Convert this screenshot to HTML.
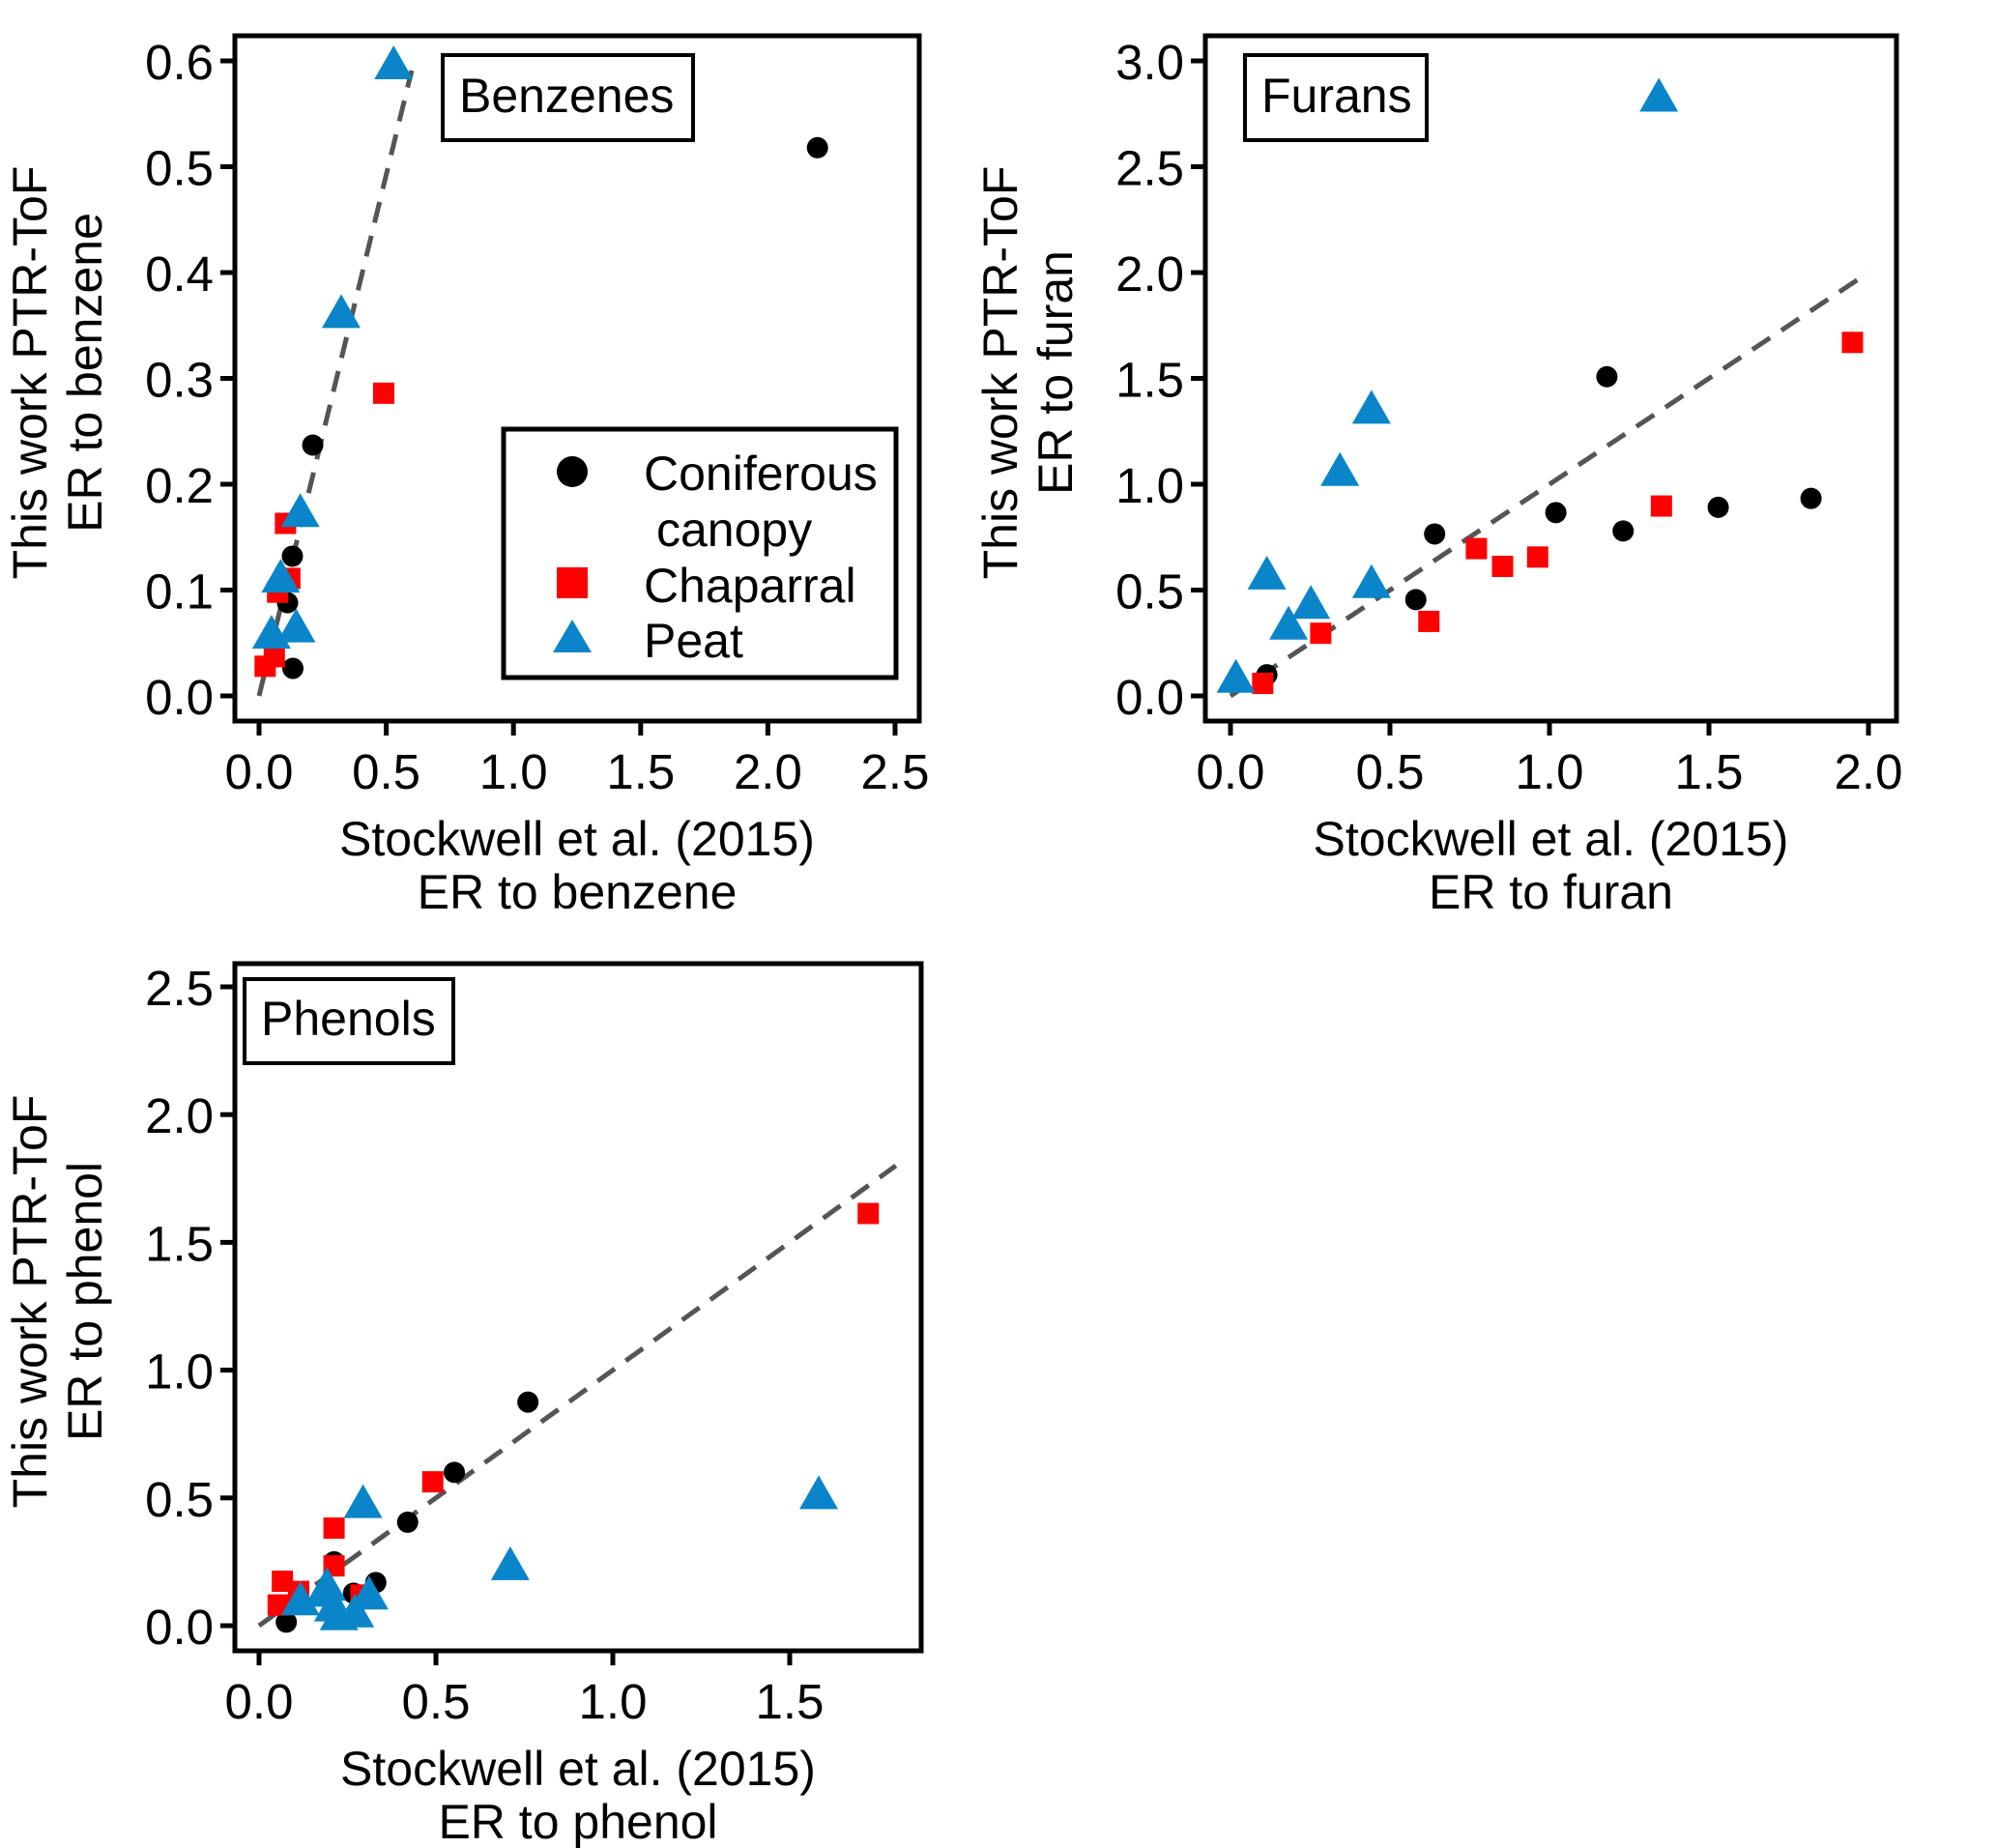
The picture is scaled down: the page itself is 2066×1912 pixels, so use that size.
<!DOCTYPE html>
<html><head><meta charset="utf-8"><style>
html,body{margin:0;padding:0;background:#fff;}
svg{display:block;font-family:"Liberation Sans",Arial,sans-serif;}
</style></head><body>
<svg id="fig" width="2066" height="1912" viewBox="0 0 2066 1912" xmlns="http://www.w3.org/2000/svg"></svg>
<script>
// ---- Benzenes data ----
const benzConifX=[2.195,0.211,0.131,0.112,0.133];
const benzConifY=[0.518,0.237,0.132,0.088,0.026];
const benzChapX=[0.49,0.104,0.121,0.073,0.024,0.06];
const benzChapY=[0.286,0.163,0.111,0.098,0.028,0.037];
const benzPeatX=[0.529,0.323,0.162,0.085,0.146,0.049];
const benzPeatY=[0.597,0.362,0.174,0.112,0.065,0.059];
const benzXTicks=[0,0.5,1,1.5,2,2.5];
const benzYTicks=[0,0.1,0.2,0.3,0.4,0.5,0.6];
// ---- Furans data ----
const furConifX=[0.114,0.64,0.581,1.02,1.18,1.231,1.529,1.82];
const furConifY=[0.10,0.765,0.455,0.866,1.508,0.779,0.891,0.933];
const furChapX=[0.101,0.283,0.622,0.771,0.853,0.963,1.351,1.95];
const furChapY=[0.059,0.296,0.352,0.696,0.612,0.656,0.897,1.67];
const furPeatX=[0.017,0.114,0.182,0.252,0.343,0.442,0.442,1.343];
const furPeatY=[0.087,0.575,0.338,0.436,1.064,1.358,0.534,2.832];
const furXTicks=[0,0.5,1,1.5,2];
const furYTicks=[0,0.5,1,1.5,2,2.5,3];
// ---- Phenols data ----
const phenConifX=[0.077,0.212,0.267,0.33,0.42,0.552,0.76];
const phenConifY=[0.014,0.25,0.127,0.169,0.405,0.6,0.875];
const phenChapX=[0.054,0.066,0.112,0.212,0.212,0.288,0.491,1.722];
const phenChapY=[0.081,0.174,0.134,0.234,0.382,0.12,0.563,1.613];
const phenPeatX=[0.117,0.184,0.192,0.21,0.226,0.271,0.311,0.294,0.71,1.582];
const phenPeatY=[0.1,0.134,0.157,0.076,0.042,0.053,0.123,0.481,0.238,0.516];
const phenXTicks=[0,0.5,1,1.5];
const phenYTicks=[0,0.5,1,1.5,2,2.5];
// fit lines [x0,x1,slope]
const benzFit=[0,0.6,0.985];
const furFit=[0,2,1];
const phenFit=[0,1.8,1];

const NS="http://www.w3.org/2000/svg";
const svg=document.getElementById('fig');
const RED="#ff0000", BLUE="#0a85c9";
function mk(tag,attrs,parent){const e=document.createElementNS(NS,tag);for(const k in attrs)e.setAttribute(k,attrs[k]);(parent||svg).appendChild(e);return e;}

function circle(g,cx,cy,r){const e=mk('circle',{cx:cx,cy:cy,r:r,fill:'#000'},g);

return e;}
function square(g,cx,cy,s){const e=mk('rect',{x:cx-s/2,y:cy-s/2,width:s,height:s,fill:RED},g);

return e;}
function tri(g,cx,cy,w,h){const e=mk('polygon',{points:`${cx},${cy-h*0.55} ${cx-w/2},${cy+h*0.45} ${cx+w/2},${cy+h*0.45}`,fill:BLUE},g);

return e;}

function panel(o){
  const g=mk('g',{});
  
  
  const X=v=>o.px0+(v-0)*(o.px1-o.px0)/(o.xmax);
  const Y=v=>o.py0-(v)*(o.py0-o.py1)/(o.ymax);
  const fl=mk('line',{x1:X(o.fit[0]),y1:Y(o.fit[0]*o.fit[2]),x2:X(o.fit[1]),y2:Y(o.fit[1]*o.fit[2]),stroke:'#555',"stroke-width":5,"stroke-dasharray":"22 14"},g);
  
  
  o.cX.forEach((v,i)=>circle(g,X(v),Y(o.cY[i]),11));
  o.hX.forEach((v,i)=>square(g,X(v),Y(o.hY[i]),22));
  o.pX.forEach((v,i)=>tri(g,X(v),Y(o.pY[i]),40,35));
  const fr=mk('rect',{x:o.fl,y:o.ft,width:o.fr-o.fl,height:o.fb-o.ft,fill:'none',stroke:'#000',"stroke-width":5},g);
  
  
  o.xt.forEach(t=>{
    const l=mk('line',{x1:X(t),y1:o.fb,x2:X(t),y2:o.fb+15,stroke:'#000',"stroke-width":5},g);
    
    
    const tx=mk('text',{x:X(t),y:o.fb+70,"font-size":51,"text-anchor":"middle",fill:'#000'},g);
    tx.textContent=t.toFixed(1);
    
    
  });
  o.yt.forEach(t=>{
    const l=mk('line',{x1:o.fl-15,y1:Y(t),x2:o.fl,y2:Y(t),stroke:'#000',"stroke-width":5},g);
    
    
    const tx=mk('text',{x:o.fl-22,y:Y(t)+19,"font-size":51,"text-anchor":"end",fill:'#000'},g);
    tx.textContent=t.toFixed(1);
    
    
  });
  const cx=(o.fl+o.fr)/2;
  const xt1=mk('text',{x:cx,y:o.fb+139,"font-size":50,"text-anchor":"middle"},g);
  xt1.textContent='Stockwell et al. (2015)';
  
  
  const xt2=mk('text',{x:cx,y:o.fb+194,"font-size":50,"text-anchor":"middle"},g);
  xt2.textContent=o.xlab;
  
  
  const cy=(o.ft+o.fb)/2-6;
  const y1=mk('text',{x:0,y:0,"font-size":50,"text-anchor":"middle",transform:`translate(${o.fl-195},${cy}) rotate(-90)`},g);
  y1.textContent='This work PTR-ToF';
  
  
  const y2=mk('text',{x:0,y:0,"font-size":50,"text-anchor":"middle",transform:`translate(${o.fl-138},${cy}) rotate(-90)`},g);
  y2.textContent=o.ylab;
  
  
  const b=o.box;
  const br=mk('rect',{x:b[0],y:b[1],width:b[2]-b[0],height:b[3]-b[1],fill:'#fff',stroke:'#000',"stroke-width":4},g);
  
  
  const bt=mk('text',{x:b[0]+17,y:b[3]-29,"font-size":50},g);
  bt.textContent=o.title;
  
  
  return g;
}

panel({name:'benzenes-panel',px0:268,px1:926,xmax:2.5,py0:720,py1:63,ymax:0.6,
  fl:243,fr:951,ft:37,fb:746,xt:benzXTicks,yt:benzYTicks,fit:benzFit,
  cX:benzConifX,cY:benzConifY,hX:benzChapX,hY:benzChapY,pX:benzPeatX,pY:benzPeatY,
  xlab:'ER to benzene',ylab:'ER to benzene',box:[458,57,717,145],title:'Benzenes'});
panel({name:'furans-panel',px0:1273,px1:1933,xmax:2,py0:720,py1:63,ymax:3,
  fl:1247,fr:1962,ft:37,fb:746,xt:furXTicks,yt:furYTicks,fit:furFit,
  cX:furConifX,cY:furConifY,hX:furChapX,hY:furChapY,pX:furPeatX,pY:furPeatY,
  xlab:'ER to furan',ylab:'ER to furan',box:[1288,57,1476,145],title:'Furans'});
panel({name:'phenols-panel',px0:268,px1:817,xmax:1.5,py0:1682,py1:1021,ymax:2.5,
  fl:243,fr:953,ft:997,fb:1708,xt:phenXTicks,yt:phenYTicks,fit:phenFit,
  cX:phenConifX,cY:phenConifY,hX:phenChapX,hY:phenChapY,pX:phenPeatX,pY:phenPeatY,
  xlab:'ER to phenol',ylab:'ER to phenol',box:[253,1013,469,1100],title:'Phenols'});

const lg=mk('g',{});


const lr=mk('rect',{x:521,y:444,width:406,height:257,fill:'#fff',stroke:'#000',"stroke-width":5},lg);


const lc=mk('circle',{cx:592,cy:488,r:16,fill:'#000'},lg);


const ls=mk('rect',{x:576,y:587,width:32,height:32,fill:RED},lg);


const lt=mk('polygon',{points:"592,641 572,675 612,675",fill:BLUE},lg);


const leg=[['Coniferous',666,507,'legend-entry-coniferous'],[' canopy',679,565,'legend-entry-coniferous-2'],['Chaparral',666,623,'legend-entry-chaparral'],['Peat',666,680,'legend-entry-peat']];
leg.forEach(r=>{const t=mk('text',{x:r[1],y:r[2],"font-size":50},lg);t.textContent=r[0];

});
</script>
</body></html>
